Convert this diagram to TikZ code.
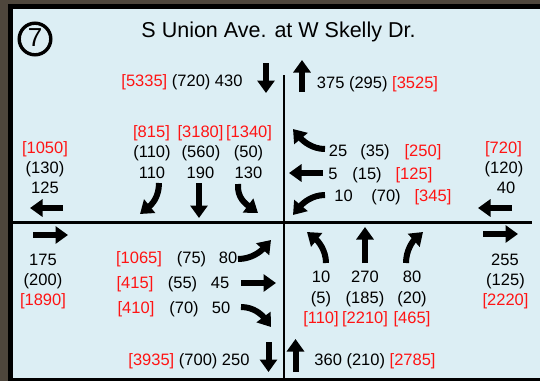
\documentclass[tikz,border=0pt]{standalone}
\usepackage{fontspec}
\setmainfont{Liberation Sans}
\usetikzlibrary{arrows.meta}
\definecolor{bgblue}{RGB}{220,238,244}
\definecolor{stone}{RGB}{78,70,60}
\definecolor{numred}{RGB}{255,20,20}
\tikzset{
  num/.style={anchor=base, inner sep=0pt, font=\fontsize{16.5}{20}\selectfont},
  rnum/.style={num, text=numred},
  bigarrow/.style={line width=6pt, -{Triangle[width=17pt,length=12.5pt]}},
  roadline/.style={black, line width=1.9pt},
}
\newcommand{\rd}[1]{\textcolor{numred}{#1}}
\begin{document}
\begin{tikzpicture}[x=1pt,y=-1pt]
\useasboundingbox (0,0) rectangle (540,381);
% frame
\fill[stone] (0,0) rectangle (540,381);
\fill[black] (8,4) rectangle (540,381);
\fill[bgblue] (13,9) rectangle (540,378);
% road center lines
\draw[roadline] (284,75) -- (284,378);
\draw[roadline, line width=2.2pt] (13,222.5) -- (532,222.5);
% badge and title
\draw[line width=3.4pt] (35,39) circle (15.8);
\node[inner sep=0pt, font=\fontsize{26}{28}\selectfont] (badge) at (35,38) {7};
\node[anchor=base, inner sep=0pt, font=\fontsize{21.5}{24}\selectfont] (title) at (278.5,37) {S Union Ave. at W Skelly Dr.};
% north leg
\node[num] (ntot) at (182,86) {\rd{[5335]} (720) 430};
\draw[bigarrow] (266,63) -- (266,93);
\draw[bigarrow] (302,92) -- (302,60);
\node[num] (nout) at (377.5,88) {375 (295) \rd{[3525]}};
% south leg
\node[num] (stot) at (189,365) {\rd{[3935]} (700) 250};
\draw[bigarrow] (268.5,342) -- (268.5,372);
\draw[bigarrow] (295.5,372) -- (295.5,339);
\node[num] (sout) at (375,365) {360 (210) \rd{[2785]}};
% west leg
\node[rnum] (w1) at (45,153) {[1050]};
\node[num] (w2) at (45,173) {(130)};
\node[num] (w3) at (45,193) {125};
\draw[bigarrow] (63,208) -- (30,208);
\draw[bigarrow] (33,235) -- (68,235);
\node[num] (w4) at (43,265) {175};
\node[num] (w5) at (43,285) {(200)};
\node[rnum] (w6) at (43,305) {[1890]};
% east leg
\node[rnum] (e1) at (503.5,153) {[720]};
\node[num] (e2) at (504,173) {(120)};
\node[num] (e3) at (506,193) {40};
\draw[bigarrow] (512,208) -- (478,208);
\draw[bigarrow] (483,234) -- (518,234);
\node[num] (e4) at (505,265) {255};
\node[num] (e5) at (505.5,285) {(125)};
\node[rnum] (e6) at (505.5,305) {[2220]};
% southbound approach
\node[rnum] (sb1) at (151.5,137) {[815]};
\node[rnum] (sb2) at (200.5,137) {[3180]};
\node[rnum] (sb3) at (249,137) {[1340]};
\node[num] (sb4) at (152,157.5) {(110)};
\node[num] (sb5) at (201,157.5) {(560)};
\node[num] (sb6) at (248.5,157.5) {(50)};
\node[num] (sb7) at (152,178) {110};
\node[num] (sb8) at (200.5,178) {190};
\node[num] (sb9) at (248.5,178) {130};
\draw[bigarrow] (159,183) .. controls (159,198) and (151,205) .. (140,214);
\draw[bigarrow] (199,183) -- (199,218);
\draw[bigarrow] (238,184) .. controls (237,198) and (246,204) .. (258,213);
% westbound approach
\node[num] (wb1) at (338,156) {25};
\node[num] (wb2) at (375,156) {(35)};
\node[rnum] (wb3) at (423,156) {[250]};
\node[num] (wb4) at (333,179) {5};
\node[num] (wb5) at (367,179) {(15)};
\node[rnum] (wb6) at (414,179) {[125]};
\node[num] (wb7) at (343.5,201) {10};
\node[num] (wb8) at (386,201) {(70)};
\node[rnum] (wb9) at (433,201) {[345]};
\draw[bigarrow] (325,149) .. controls (312,149) and (303,141) .. (293,129);
\draw[bigarrow] (323,173) -- (289,173);
\draw[bigarrow] (325,195) .. controls (312,195) and (303,203) .. (293,215);
% eastbound approach
\node[rnum] (eb1) at (139,263) {[1065]};
\node[num] (eb2) at (191.5,263) {(75)};
\node[num] (eb3) at (228,263) {80};
\node[rnum] (eb4) at (135,288) {[415]};
\node[num] (eb5) at (182.5,288) {(55)};
\node[num] (eb6) at (220,288) {45};
\node[rnum] (eb7) at (136,313) {[410]};
\node[num] (eb8) at (184,313) {(70)};
\node[num] (eb9) at (221,313) {50};
\draw[bigarrow] (238,259) .. controls (252,259) and (261,251) .. (271,240);
\draw[bigarrow] (241,283) -- (276,283);
\draw[bigarrow] (241,307) .. controls (254,307) and (262,315) .. (271,327);
% northbound approach
\draw[bigarrow] (326,263) .. controls (326,250) and (318,241) .. (307,232);
\draw[bigarrow] (365,263) -- (365,227);
\draw[bigarrow] (406,263) .. controls (406,250) and (413,241) .. (423,232);
\node[num] (nb1) at (321,282) {10};
\node[num] (nb2) at (365,282) {270};
\node[num] (nb3) at (412,282) {80};
\node[num] (nb4) at (321,303) {(5)};
\node[num] (nb5) at (365,303) {(185)};
\node[num] (nb6) at (412,303) {(20)};
\node[rnum] (nb7) at (321,323) {[110]};
\node[rnum] (nb8) at (365,323) {[2210]};
\node[rnum] (nb9) at (412,323) {[465]};
\end{tikzpicture}
\end{document}
